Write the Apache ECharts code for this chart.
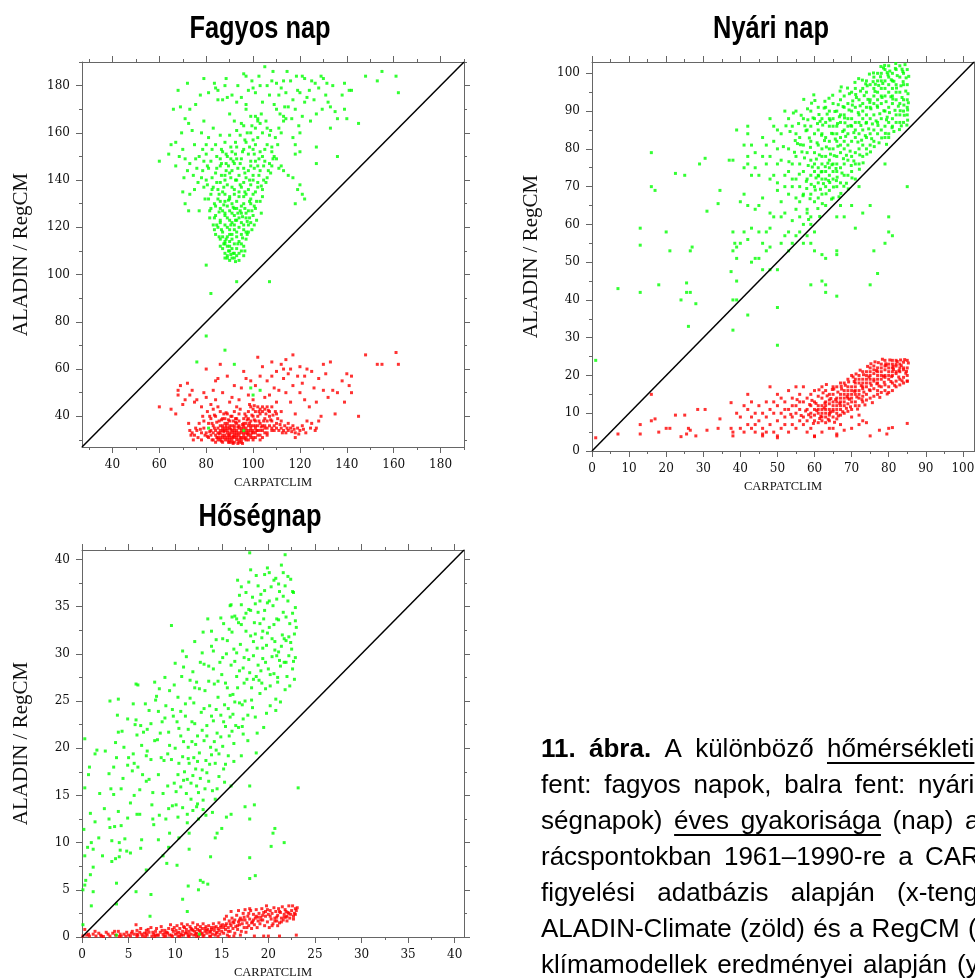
<!DOCTYPE html>
<html>
<head>
<meta charset="utf-8">
<script src="https://cdn.jsdelivr.net/npm/echarts@6/dist/echarts.min.js"></script>
<style>
html, body { margin: 0; padding: 0; background: #fff; }
#main { width: 975px; height: 979px; }
</style>
</head>
<body>
<div id="main"></div>
<script>
// axis ranges and ticks
var fagyosRange = [27, 190];
var fagyosTicks = [40, 60, 80, 100, 120, 140, 160, 180];
var fagyosMinor = [30, 50, 70, 90, 110, 130, 150, 170, 190];
var nyariRange = [0, 103];
var nyariTicks = [0, 10, 20, 30, 40, 50, 60, 70, 80, 90, 100];
var nyariMinor = [5, 15, 25, 35, 45, 55, 65, 75, 85, 95];
var hosegRange = [0, 41];
var hosegTicks = [0, 5, 10, 15, 20, 25, 30, 35, 40];
var hosegMinor = [2.5, 7.5, 12.5, 17.5, 22.5, 27.5, 32.5, 37.5];

// [CARPATCLIM, model] pairs
var fagyosAladin = [
  [90,106],[91,107],[89,108],[92,107],[88,109],[93,108],[90,110],[94,109],[87,111],[91,111],[95,110],[89,112],[92,113],[96,112],[88,114],[90,114],[94,114],[86,115],[93,116],[97,115],
  [89,116],[91,117],[95,117],[87,118],[92,119],[98,118],[90,119],[85,120],[94,120],[88,121],[96,121],[91,122],[99,122],[86,123],[93,123],[89,124],[97,124],[84,125],[92,125],[100,125],
  [95,126],[88,126],[90,127],[86,128],[98,127],[93,128],[101,128],[84,129],[91,130],[96,130],[88,131],[103,131],[99,132],[85,132],[94,133],[90,133],[82,134],[97,134],[101,135],[87,135],
  [92,136],[104,136],[83,137],[95,137],[89,138],[99,138],[86,139],[102,139],[93,140],[80,140],[97,141],[106,141],[88,142],[100,142],[84,143],[91,144],[103,144],[96,145],[86,146],[99,146],
  [108,146],[92,147],[82,148],[101,148],[95,149],[89,150],[98,151],[104,150],[87,152],[100,153],[93,154],[101,155],[97,156],[84,155],[100,157],[102,158],[99,160],[101,162],[96,163],[102,165],
  [89,107],[92,109],[90,112],[93,111],[88,113],[91,115],[95,113],[87,116],[90,117],[93,118],[96,119],[89,120],[92,121],[86,122],[95,122],[90,123],[88,125],[94,124],[91,126],[97,126],
  [87,127],[92,128],[95,129],[89,129],[99,130],[86,131],[93,131],[90,132],[96,133],[88,134],[92,134],[100,134],[94,135],[85,136],[98,136],[91,137],[96,139],[88,140],[94,142],[90,143],
  [98,144],[102,146],[93,149],[86,149],[91,152],[96,153],[99,148],[103,152],[105,148],[100,140],[102,137],[104,133],[97,118],[98,121],[94,106],[96,108],[88,107],[86,112],[84,117],[83,121],
  [82,128],[81,132],[79,137],[78,141],[81,145],[80,151],
  [83.5,124],[85.5,126.5],[87.5,129.5],[89.5,131.5],[91.5,128.5],[93.5,126],[95.5,124.5],[97.5,122.5],[99.5,127],[101.5,131],[103.5,137.5],[105.5,139],[107.5,143],[104.5,146],[102.5,149],[100.5,151],[98.5,154],[96.5,157],[94.5,159],[92.5,156],
  [90.5,154],[88.5,151],[86.5,147],[84.5,145],[82.5,141],[80.5,138],[79.5,132],[81.5,127],[83.5,119],[85.5,116],[87.5,113],[89.5,110],[91.5,109],[93.5,113],[95.5,115.5],[97.5,117],[99.5,119],[101.5,123],[103.5,126],[100.5,129],
  [98.5,131],[96.5,135],[94.5,138],[92.5,140],[90.5,141],[88.5,144],[86.5,142],[84.5,139],[82.5,136],[100.5,145],[102.5,142],[104.5,140],[106.5,144],[108.5,149],[110.5,155],[109.5,158],[107.5,161],[105.5,165],[103.5,168],[99.5,163],
  [97.5,160],[95.5,152],[93.5,145],[91.5,148],[89.5,146],[87.5,137],[85.5,134],[83.5,130],[81.5,124],[96.5,110],[92.5,105.5],[90.5,108.5],[88.5,115],[86.5,119],[84.5,121],[90.5,121],[92.5,123],[94.5,127],[96.5,128],[98.5,124],
  [100.5,121],[98.5,140],[96.5,143],[94.5,147],[92.5,151],[90.5,149],[88.5,147],[86.5,153],[84.5,150],[82.5,153],[80.5,146],[78.5,144],[76.5,139],[78.5,153],[75.5,149],[74.5,142],[111.5,168],[113.5,171],[116.5,166],[119.5,163],
  [124.5,165],[129.5,170],[131.5,181],[126.5,181],[118.5,184],[114.5,186],[108.5,186],[102.5,184],[99.5,182],[93.5,180],[88.5,183],[83.5,181],[77.5,176],[75.5,172],[72.5,164],[69.5,160],[68.5,150],[70.5,141],[72.5,127],
  [66,170],[68,178],[69,171],[72,181],[73,170],[71,166],[67,156],[70,153],[74,161],[75,155],[78,160],[79,165],[79,183],[81,177],[84,179],[85,178],[85,174],[87,174],[88,180],[89,175],
  [90,168],[91,176],[92,165],[93,173],[95,175],[96,185],[97,184],[97,172],[98,178],[99,167],[100,179],[101,177],[102,166],[103,180],[104,173],[105,188],[106,180],[107,176],[108,182],[109,172],
  [110,181],[111,176],[112,179],[113,167],[113,182],[114,177],[115,171],[116,182],[117,174],[118,170],[119,178],[120,177],[121,184],[122,183],[122,173],[123,175],[124,178],[125,182],[126,174],[127,168],
  [128,179],[129,184],[130,183],[131,176],[132,173],[133,171],[133,162],[134,180],[135,169],[136,166],[138,176],[139,181],[139,170],[140,166],[141,178],[142,178],[145,164],[148,184],[153,182],[155,186],
  [161,184],[162,177],[110,170],[111,162],[113,165],[114,166],[112,160],[117,158],[118,151],[118,155],[120,152],[120,160],[121,167],[115,142],[117,141],[118,130],[119,136],[120,138],[121,134],[122,132],
  [127,154],[127,147],[136,150],[106,162],[104,160],[107,159],[108,154],[109,150],[110,149],[111,145],[112,146],[113,144],[105,153],[106,155],[107,147],[108,152],[103,164],[101,167],[97,170],[95,164],
  [93,161],[90,159],[88,156],[86,159],[83,162],[81,158],[80,155],[77,150],[76,145],[79,148],[73,147],[71,149],[72,144],[75,136],[77,127],[73,134],[71,130],[70,135],[64,151],[60,148],
  [65,155],[67,146],[80,104],[82,92],[93,97],[107,97],[88,68],[80,74],[76,63],[92,62],[99,52],[100,49],[103,51],[96,34],[81,35]
];
var fagyosRegcm = [
  [80,33],[81,31],[82,34],[83,30],[84,32],[85,35],[85,31],[86,33],[87,29],[87,36],[88,31],[88,34],[89,30],[89,37],[90,32],[90,35],[91,29],[91,33],[92,31],[92,36],
  [93,34],[93,30],[94,32],[94,38],[95,35],[95,31],[96,33],[96,37],[97,30],[97,35],[98,32],[98,39],[99,34],[99,31],[100,36],[100,33],[101,38],[101,35],[102,32],[102,40],
  [103,37],[103,34],[104,42],[104,36],[105,39],[105,33],[83,36],[84,29],[86,30],[87,32],[88,37],[89,33],[90,30],[91,36],[92,34],[93,32],[94,35],[95,29],[96,31],[97,33],
  [98,36],[99,38],[100,31],[101,33],[102,36],[103,41],[85,33],[86,36],[87,34],[89,35],[90,31],[91,31],[92,33],[93,37],[94,30],[95,33],[96,35],[97,37],[98,34],[99,36],
  [100,40],[101,42],[102,44],[103,43],[98,42],[99,44],[100,43],[97,40],[96,39],[104,44],[105,43],[106,44],[107,42],[108,44],[106,38],[107,40],[108,38],[109,36],[110,35],[111,34],
  [112,35],[113,34],[114,33],[115,34],[116,35],[117,36],[118,33],[119,35],[120,34],[108,34],[106,35],[110,37],[112,38],[105,36],[104,31],[106,32],[103,30],[78,33],[79,35],[78,30],
  [76,34],[75,32],[74,33],[73,34],[81,37],[82,39],[79,38],[77,37],[84,40],[86,42],[88,39],[85,44],[83,43],[90,38],[91,40],[92,42],[93,39],[94,41],[89,41],[87,39],
  [82,32],[83,33],[84,34],[85,30],[86,31],[86,34],[87,31],[87,35],[88,30],[88,32],[88,35],[89,31],[89,34],[90,29],[90,33],[90,36],[91,30],[91,34],[92,29],[92,32],
  [92,35],[93,31],[93,33],[94,29],[94,33],[94,36],[95,30],[95,34],[96,32],[96,36],[97,31],[97,34],[98,30],[98,33],[99,32],[99,35],[100,30],[100,34],[101,31],[101,36],
  [102,34],[103,32],[104,34],[105,35],[106,33],[107,36],[108,35],[109,34],
  [80.5,31.5],[81.5,33.5],[82.5,30],[83.5,35],[84.5,31],[85.5,32.5],[86.5,29.5],[87.5,33.5],[88.5,36],[89.5,32],[90.5,34.5],[91.5,31.5],[92.5,37.5],[93.5,35.5],[94.5,31],[95.5,36.5],[96.5,30.5],[97.5,32.5],[98.5,37],[99.5,33],
  [100.5,38.5],[101.5,34],[102.5,38],[103.5,35.5],[104.5,38],[105.5,41],[106.5,42.5],[107.5,38.5],[108.5,40.5],[109.5,42],[110.5,39],[111.5,36.5],[112.5,33],[113.5,36],[114.5,35],[116.5,33.5],[117.5,34.5],[119.5,32.5],[121.5,34.5],[122.5,33],
  [124.5,35],[126.5,34],[79.5,32],[77.5,34.5],[76.5,31],[75.5,35],[74.5,30],[73.5,32],[72.5,37],[78.5,40],[80.5,42],[82.5,37],[84.5,37.5],[86.5,38.5],[88.5,41.5],[90.5,40],[92.5,39],[94.5,43],[96.5,41],[98.5,45],
  [100.5,44.5],[102.5,42],[99.5,40.5],[97.5,38.5],[91.5,38],[89.5,38.5],[87.5,41],[85.5,38],[83.5,40.5],[81.5,40],[93.5,28.5],[91.5,28.5],[89.5,29],[95.5,28.5],
  [60,44],[65,43],[67,41],[68,51],[68,49],[69,53],[70,45],[71,47],[72,54],[73,49],[74,51],[75,46],[76,47],[78,44],[79,50],[80,48],[80,60],[82,45],[83,51],[84,47],
  [84,55],[85,56],[86,62],[87,50],[89,57],[90,46],[91,48],[92,53],[93,44],[94,47],[95,52],[96,59],[97,56],[98,49],[99,55],[100,47],[101,53],[103,57],[104,61],[105,48],
  [106,55],[107,49],[108,57],[109,52],[110,46],[110,59],[111,51],[112,62],[113,56],[113,60],[114,50],[115,58],[116,46],[117,53],[117,66],[118,41],[119,57],[120,50],[120,61],[121,54],
  [122,47],[122,57],[123,60],[124,44],[125,59],[126,52],[127,46],[128,38],[128,56],[129,40],[130,62],[130,51],[131,58],[132,48],[133,63],[134,51],[135,41],[136,50],[138,55],[139,46],
  [140,58],[141,53],[142,57],[142,50],[145,40],[148,66],[153,62],[155,62],[161,67],[162,62],[114,64],[116,60],[108,63],[102,65],[127,35],[125,37],[118,31],[121,36],[123,38],[115,37],
  [112,42],[110,41]
];
var nyariAladin = [
  [56,70],[56,76],[57,81],[57,88],[58,72],[58,79],[58,85],[56,83],[57,74],[55,78],[55,72],[55,84],[54,76],[54,70],[53,80],
  [59,73],[59,77],[59,82],[59,86],[59,90],[60,70],[60,74],[60,79],[60,84],[60,88],[61,71],[61,75],[61,81],[61,85],[61,91],[60,66],[59,68],[61,67],
  [62,72],[62,76],[62,80],[62,84],[62,88],[63,70],[63,74],[63,78],[63,83],[63,87],[63,91],[64,73],[64,77],[64,82],[64,86],[64,90],[62,68],[64,69],[63,65],
  [65,72],[65,76],[65,80],[65,84],[65,88],[65,92],[66,74],[66,78],[66,82],[66,86],[66,90],[67,75],[67,79],[67,83],[67,87],[67,93],[66,70],[67,71],
  [68,76],[68,80],[68,85],[68,89],[68,94],[69,77],[69,81],[69,84],[69,88],[69,92],[70,78],[70,82],[70,86],[70,90],[70,95],[68,73],[70,74],[69,73],
  [71,79],[71,83],[71,87],[71,91],[71,96],[72,80],[72,84],[72,89],[72,93],[73,81],[73,85],[73,88],[73,92],[73,96],[71,76],[73,78],[72,76],
  [74,83],[74,87],[74,91],[74,95],[74,98],[75,84],[75,88],[75,93],[75,97],[76,85],[76,89],[76,92],[76,96],[76,99],[75,81],[74,80],[76,82],
  [77,87],[77,91],[77,95],[77,98],[78,88],[78,92],[78,96],[78,100],[79,86],[79,90],[79,94],[79,98],[79,101],[77,84],[78,85],[79,83],
  [80,87],[80,91],[80,95],[80,99],[80,102],[81,88],[81,92],[81,96],[81,100],[82,89],[82,93],[82,97],[82,101],[80,84],[81,86],[82,87],
  [83,89],[83,92],[83,95],[83,99],[83,102],[84,90],[84,93],[84,97],[84,100],[85,91],[85,93],[85,97],[85,101],[84,87],[85,89],[83,87],
  [76,94],[77,93],[78,94],[79,96],[80,97],[81,98],[82,95],[78,98],[77,100],[81,94],[62,74],[61,73],[63,72],[64,75],[62,78],[60,76],[65,74],[66,76],[64,80],[67,81],
  [68,82],[69,86],[70,88],[71,85],[72,87],[73,90],[74,89],[75,91],[66,84],[65,86],[64,88],[67,89],[68,91],
  [57.3,77.6],[58.6,82.9],[59.4,75.2],[60.7,81.6],[61.5,87.3],[62.4,70.8],[63.2,80.5],[64.6,84.1],[65.3,78.2],[66.7,88.5],[67.4,73.6],[68.2,86.9],[69.6,79.4],[70.3,92.7],[71.7,81.8],[72.5,86.2],[73.4,94.1],[74.6,85.3],[75.2,90.6],[76.6,87.4],
  [77.3,96.8],[78.7,90.1],[79.3,92.5],[80.6,93.8],[81.4,97.9],[82.6,91.3],[83.3,96.7],[84.7,98.8],[85.2,94.6],[84.4,102.3],[82.3,99.4],[80.3,100.6],[78.4,97.3],[76.3,95.2],[74.4,93.1],[72.3,91.4],[70.6,84.3],[68.6,78.3],[66.3,80.7],[64.3,78.6],
  [62.7,82.2],[60.4,72.3],[58.3,75.6],[56.6,79.2],[55.4,81.4],[57.7,84.8],[59.6,88.2],[61.3,78.4],[63.6,76.2],[65.6,82.6],[67.6,84.6],[69.3,90.3],[71.3,93.6],[73.7,83.5],[75.6,86.6],[77.6,89.3],[79.6,88.4],[81.7,90.2],[83.6,93.6],[84.6,95.3],
  [85.4,99.2],[83.8,100.5],[81.8,101.3],[79.8,99.6],[77.8,99.1],[75.8,97.8],[73.8,97.2],[71.8,89.6],[69.8,86.2],[67.8,77.4],[65.8,74.8],[63.8,71.6],[61.8,73.9],[60.2,69.1],[61.1,72.8],[62.9,75.3],[64.1,71.1],[66.1,72.5],[62.1,65.5],[60.9,64.2],
  [59.1,70.6],[58.8,66.8],[64.9,94.2],[62.8,92.6],[60.1,92.8],[58.1,90.6],[56.4,88.9],[54.3,89.5],[57.1,93.1],[59.8,94.3],[55.9,73.3],[57.9,69.5],[68.9,96.1],[66.9,95.3],[70.9,97.6],[72.9,98.2],[75.9,100.1],[78.9,102.1],[80.9,85.6],[82.9,85.1],
  [84.9,86.3],[78.1,82.9],[76.1,80.6],[74.1,78.6],[72.1,74.6],[70.1,72.3],[69.1,69.4],[67.1,68.2],[65.1,69.9],[79.1,84.1],[83.1,90.1],[85.1,87.6],[84.1,91.6],
  [60.5,77.3],[61.9,83.6],[63.4,89.2],[64.7,75.8],[66.2,86.7],[67.7,91.2],[68.4,83.3],[69.9,75.6],[71.1,94.4],[72.7,82.3],[73.9,86.8],[74.2,96.7],[75.4,82.7],[76.9,91.4],[77.1,86.2],[78.2,93.6],[79.4,87.7],[80.2,89.6],[81.1,93.2],[82.1,96.1],
  [83.9,97.8],[84.2,88.9],[85.3,92.2],[80.7,98.3],[78.6,101.4],[76.4,97.1],[74.9,92.3],[72.4,95.3],[70.2,91.6],[68.1,88.2],[66.4,91.7],[64.2,87.6],[62.2,86.3],[60.8,86.7],[58.9,80.4],[57.4,86.1],[55.7,86.7],[56.2,81.1],[57.8,71.4],[61.6,69.3],
  [63.1,68.1],[65.9,71.6],[67.9,70.1],[70.6,76.8],[72.2,78.4],[73.1,76.3],[75.1,79.2],[77.4,81.6],[79.4,81.2],[81.4,84.6],[83.4,86.1],[85.1,90.3],[69.4,94.6],[67.2,96.4],[71.9,98.6],[74.8,99.8],[77.9,101.8],[81.9,102.6],[83.6,101.1],[79.6,100.2],
  [65.5,89.9],[63.9,93.4],[62.6,90.8],[61.2,89.1],[59.2,92.1],[58.2,87.7],[54.8,82.2],[53.4,84.6],[52.3,86.1],[51.6,80.6],[53.1,76.6],[54.6,79.1],[56.9,67.6],[58.4,61.3],[61.4,62.1],[64.6,66.7],[66.6,67.3],[68.6,70.9],
  [38,77],[37,77],[39,85],[42,86],[42,84],[41,81],[43,81],[44,79],[42,78],[42,76],[46,83],[47,81],[48,88],[49,86],[50,85],[51,84],[52,90],[53,88],[54,86],[55,90],
  [49,82],[50,80],[48,78],[47,76],[46,78],[45,73],[44,75],[43,73],[41,75],[40,66],[41,68],[42,65],[44,64],[45,65],[46,67],[48,63],[49,62],[50,69],[50,71],[51,66],
  [52,63],[53,58],[54,61],[55,64],[56,62],[57,60],[55,57],[54,55],[53,53],[52,57],[51,55],[48,59],[47,58],[45,58],[43,59],[42,56],[41,58],[40,55],[39,54],[38,53],
  [38,58],[39,51],[43,50],[44,51],[45,51],[46,48],[48,48],[50,48],[57,55],[56,58],[58,57],[58,63],[59,55],[60,53],[48,54],[47,53],[46,55],[51,62],[52,70],[53,68],
  [54,72],[55,67],[56,66],[57,68],[58,64],[59,62],[50,76],[51,77],[52,73],[53,74],[49,73],[48,72],
  [66,62],[68,62],[70,65],[73,63],[75,65],[71,59],[80,62],[80,58],[79,55],[81,57],[76,53],[62,52],[63,51],[66,52],[66,53],[62,45],[63,44],[63,42],[66,41],[75,44],
  [77,47],[59,44],[50,38],[50,28],[42,36],[38,32],[38,40],[39,45],[1,24],[85,70],[79,76],[80,83],[71,72],[72,70],[65,67],[67,65],[60,58],[59,60],[16,79],[16,70],
  [17,69],[13,59],[13,54.5],[13,42],[7,43],[18,44],[20,58],[21,53],[22.5,73.5],[25,73],[24,40],[25.5,44.5],[25.5,42],[26.5,42],[26,33],[28,39],[26.5,53],[27,54],[29,76],[30.5,77.5],
  [31,63.5],[34,65.5],[34.5,69],[37.5,47.5],[38.5,55],[39,40]
];
var nyariRegcm = [
  [58,8],[58,11],[58,14],[59,9],[59,12],[59,10],[60,8],[60,11],[60,13],[60,9.5],[61,7.5],[61,10],[61,12],[61,14.5],[59,15],[60,16],
  [62,8],[62,10],[62,12],[62,14],[63,9],[63,11],[63,13],[63,16],[64,9.5],[64,11],[64,12.5],[64,15],[62,17],[63,7.5],[64,8],
  [65,9],[65,11],[65,13],[65,15],[66,10],[66,12],[66,14],[66,17],[67,11],[67,13],[67,15],[67,18],[65,17],[66,8.5],[67,9.5],
  [68,12],[68,14],[68,16],[68,18],[69,12.5],[69,15],[69,17],[69,19],[70,13],[70,15],[70,17],[70,20],[68,10],[69,10.5],[70,11],
  [71,13],[71,15],[71,17],[71,19],[72,14],[72,16],[72,18],[72,20],[73,14.5],[73,16.5],[73,19],[73,21],[71,12],[72,12],[73,13],
  [74,15],[74,17],[74,19],[74,21],[75,16],[75,18],[75,20],[75,22],[76,16.5],[76,18.5],[76,20.5],[76,22.5],[74,13.5],[75,14],[76,14.5],
  [77,16],[77,18],[77,20],[77,22],[78,17],[78,19],[78,21],[78,23],[79,17.5],[79,19.5],[79,21.5],[79,24],[77,15],[78,15.5],[79,16],
  [80,17],[80,19],[80,21],[80,23],[81,18],[81,20],[81,22],[81,24],[82,18.5],[82,20.5],[82,22.5],[82,24],[80,15.5],[81,16],[82,17],
  [83,19],[83,21],[83,23],[84,19.5],[84,21.5],[84,23.5],[85,20],[85,22],[85,24],[85,18.5],[84,18],[83,17.5],
  [61,11],[62,11],[63,10],[64,10],[65,10.5],[66,11],[67,12],[68,13],[69,14],[70,14],[71,16],[72,15],[73,17],[74,18],[75,19],[76,19],[77,19],[78,20],[79,20],[80,20],
  [81,21],[82,21],[83,22],[84,22],[62,9],[63,12],[64,13.5],[65,12],[66,13],[67,14],[68,15],[69,16],[70,16],[71,18],[72,19],[73,18],[74,20],[75,21],[76,21.5],[77,21],
  [78,22],[79,22.5],[80,22],[81,23],[82,23],
  [58.4,9.6],[59.3,13.4],[60.6,10.7],[61.4,8.6],[62.6,11.4],[63.4,14.6],[64.3,10.3],[65.7,13.6],[66.4,9.3],[67.3,16.4],[68.6,11.3],[69.4,13.7],[70.7,18.4],[71.4,14.3],[72.6,17.3],[73.3,15.6],[74.7,19.6],[75.3,17.4],[76.7,21.3],[77.4,17.2],
  [78.6,19.8],[79.3,22.7],[80.6,18.4],[81.3,21.6],[82.7,19.6],[83.4,22.6],[84.6,20.6],[85.3,23.3],[84.3,24.2],[82.3,23.7],[80.3,24.1],[78.3,24.3],[76.3,23.6],[74.3,22.4],[72.3,21.4],[70.4,19.6],[68.3,17.4],[66.3,15.6],[64.4,13.9],[62.3,15.4],
  [60.4,12.6],[58.7,12.3],[57.6,10.6],[56.4,9.4],[55.3,13.6],[53.6,9.7],[59.7,7.3],[61.7,9.2],[63.7,8.4],[65.4,7.6],[67.6,10.4],[69.7,11.7],[71.6,11.1],[73.6,12.2],[75.6,12.8],[77.6,14.2],[79.6,15.1],[81.6,17.4],[83.6,18.6],[62.8,12.7],
  [64.8,16.3],[66.8,12.6],[68.8,14.4],[70.8,15.8],[72.8,13.6],[74.8,16.2],[76.8,17.8],[78.8,18.2],[80.8,19.7],[82.8,21.3],[84.8,21.1],[61.2,16.2],[63.2,17.6],[65.2,16.4],[67.2,17.1],[69.2,18.3],[71.2,20.4],[73.2,20.2],[75.2,23.1],[77.2,23.4],
  [79.2,23.1],[81.2,22.4],[83.2,24.1],
  [40,6],[40,9],[41,5],[41,12],[42,7],[42,11],[43,6],[43,9],[44,5],[44,10],[45,8],[45,12],[46,6],[46,4],[47,9],[47,13],[48,7],[48,11],[48,17],[49,5],
  [49,10],[50,8],[50,12],[50,4],[51,6],[51,10],[51,14],[52,7],[52,9],[52,13],[53,5],[53,11],[53,16],[54,7],[54,9],[54,14],[55,6],[55,10],[55,12],[55,17],
  [56,8],[56,11],[56,15],[57,7],[57,9],[57,13],[57,17],[42,15],[43,13],[44,7],[46,10],[47,5],[49,13],[50,15],[52,11],[54,12],[56,13],[58,5],[59,6],[60,4],
  [62,5],[64,6],[66,4.5],[68,5.5],[70,6],[72,7],[74,7.5],[70,9],[72,9.5],[73,8],[67,7],[65,6],
  [1,3.5],[7,4.5],[13,7],[13,4.5],[16,8],[17,8.5],[18,5],[21,6],[20,6],[22.5,9.5],[24,3.8],[25,9.5],[26,6],[25.5,4.5],[26.5,5.5],[28,4],[28.5,11],[30.5,11],[31,5.5],[34,6],
  [34.5,8.5],[37.5,6],[37.5,12.8],[38,5],[38,4],[39,10],[75,4],[77.5,5.5],[79.5,4.5],[80,6],[81,6.2],[85,7.3],[16,15],[85,18.5],[60,3.8],[66,4],[50,3.5],[46,4.5]
];
var hosegAladin = [
  [0.3,21],[0.3,15.8],[0.2,11.4],[0.3,8.6],[0.3,5.5],[0.1,5],[0.4,6],[0.8,18],[0.7,17.2],[1,10],[1.2,9.3],[0.9,6.6],[1.2,4.8],[1.4,19.4],[1.6,19.8],[1.8,10.5],[1,3.3],[0.1,1.3],[0.6,9.5],
  [2.5,19.7],[3,25],[3,11.6],[3.2,8],[3.4,18],[3.5,11.7],[3.6,20.6],[3.7,19],[3.8,23.5],[3.9,25.2],[3.9,21.7],[4,10],[4,8.5],[4.2,15.7],[4.3,21.8],[4.5,20.1],[4.6,10.4],[4.8,9.1],[4.9,12.6],[4.9,23.1],
  [5,19],[5.2,8.9],[5.5,24.7],[5.5,19.4],[5.6,18.4],[5.6,15],[5.7,22.5],[3.7,5.7],[3.7,3.5],[3.1,15.7],[4.1,9.2],[3.6,8.3],[2.9,12.5],
  [5.8,23],[5.8,26.8],[6,26.7],[6.3,22.4],[6,18],[6.2,13],[6.4,10.3],[6.5,17.2],[6.6,21.7],[6.8,24.7],[6.9,16.5],[7,22],[7,19.7],[7.2,24],[7.4,18.8],[7.5,14],[7.6,15.3],[7.7,11.9],[7.8,20.8],[7.8,27],
  [8,25.5],[8.1,20.9],[8.2,23.9],[8.2,10.3],[7.4,4.5],[7.3,2.2],[5.8,4.8],[6.9,7.1],[6.3,9.4],[7.6,12.5],[5.9,13],
  [8.3,26.3],[8.5,19],[8.6,22.8],[8.7,15.2],[8.8,18.7],[8.9,27.5],[9,12.5],[9,24.5],[9.2,16],[9.3,21.7],[9.4,11],[9.4,26.1],[9.6,33],[9.6,18.8],[9.7,13.9],[9.8,23.4],[9.9,16.3],[10,20],[10,29],[10.1,14],
  [10.2,22.8],[10.3,25.4],[10.4,18.4],[10.4,10.5],[10.6,23.9],[10.6,15.9],[10.7,27.6],[10.8,13.7],[10.8,30.3],[10.9,20.7],[9.1,7.8],[10.2,7.6],[9.3,9.5],[8.7,8.6],
  [11,17.5],[11.1,24.7],[11.2,15.2],[11.2,29.7],[11.3,13],[11.4,22],[11.5,18.4],[11.6,27.2],[11.7,16.3],[11.8,20.7],[11.9,13.4],[12,24.8],[12.1,31.3],[12.2,17.8],[12.3,27],[12.4,21.3],[12.5,15.3],[12.6,19.5],[12.7,29.1],[12.8,23.8],
  [12.9,17.7],[13,14.5],[13,32.3],[13.1,20.8],[13.2,26.1],[13.3,18.7],[13.4,22.4],[13.5,33.7],[13.6,16.5],[13.6,28.7],[13.7,24.5],[13.8,20.1],[13.9,30.8],[13.9,19.3],[11.5,9.3],[11.5,11],[12.5,12.5],[13,13.5],[14,13.2],[12.7,6],
  [13,5.8],[12.5,5],[11.4,5.4],[10.8,4],[11.3,2.7],[13.5,5.6],[13.8,8.5],[12,19],[12.3,16],[11.8,22.8],
  [14.1,22.9],[14.2,26.8],[14.3,18.4],[14.4,31.5],[14.5,21.6],[14.6,25.4],[14.7,17],[14.8,29.1],[14.9,23.5],[15,27.8],[15.1,20.2],[15.2,33.2],[15.3,24.6],[15.4,22.3],[15.5,30],[15.6,26.4],[15.7,19.2],[15.8,32.6],[15.9,23.3],[16,28.8],
  [16,35.2],[16.1,21.8],[16.2,25.7],[16.3,30.5],[16.4,34],[16.5,22.4],[16.6,27.6],[16.7,37.8],[16.8,33.3],[16.9,24.8],[15.5,12.7],[15,11.5],[14.5,11],[14.3,10.5],[14.5,15.7],[16,16],[16,13],[14,15.5],[15.2,17.8],[16.3,20.5],
  [17,31],[17.1,35.2],[17.2,22.3],[17.3,28.5],[17.4,33.8],[17.5,25],[17.6,36.5],[17.7,30.4],[17.8,23.5],[17.9,34.7],[18,28],[18,40.7],[18.1,31.9],[18.2,26.4],[18.3,36],[18.4,29.8],[18.5,33.3],[18.6,23.3],[18.7,38.3],[18.8,30.6],
  [18.9,34.4],[19,27.2],[19.1,25.8],[19.2,36.3],[19.3,31.7],[19.4,29.5],[19.5,33.7],[19.6,38.4],[19.7,26.3],[19.8,30.9],[19.9,35.4],[20,28.4],[17.5,13.8],[18,16],[18,12.5],[18.5,14],[18,8.4],[18,6.2],[18.6,6.5],[17.3,21.5],
  [17.1,19.2],[18.7,19.5],[19.5,22.2],
  [20.1,32.8],[20.2,26.6],[20.3,37.1],[20.4,29.7],[20.5,35.1],[20.6,27.9],[20.7,31.3],[20.8,38],[20.9,33.7],[21,27.5],[21.1,30.2],[21.2,36.6],[21.3,28.7],[21.4,39.4],[21.5,32],[21.6,34.4],[21.7,29.1],[21.8,37.2],[21.8,40.5],[21.9,31.4],
  [22,27.6],[22.1,35.6],[22.2,29.8],[22.3,33.2],[22.4,37.9],[22.5,30.5],[22.6,28.4],[22.7,36.5],[22.8,32.1],[23,32.8],[22.9,29.6],[20.5,11],[20.7,11.5],[21.7,10],[20.3,9.6],[23.2,15.8],[21,27],[20.2,24.5],[20.8,24],
  [10.3,17.2],[10.8,19.1],[11.3,16.7],[11.7,14.6],[12.2,20.4],[12.7,16.8],[13.2,15.7],[13.7,18.3],[14.2,20.7],[14.7,19.4],[15.2,22.8],[15.7,24.2],[16.2,23.6],[16.7,26.4],[17.2,24.6],[17.7,27.3],[18.2,25.1],[18.7,27.6],[19.2,28.2],[19.7,29.1],
  [20.2,27.8],[20.7,30.4],[21.2,29.3],[21.7,31.6],[22.2,31.8],[22.7,29.2],[10.6,21.3],[11.1,23.4],[11.6,25.3],[12.1,22.6],[12.6,26.3],[13.1,24.2],[13.6,27.1],[14.1,28.4],[14.6,27.1],[15.1,29.6],[15.6,31.4],[16.1,32.3],[16.6,30.1],[17.1,33.1],
  [17.6,32.4],[18.1,34.6],[18.6,35.3],[19.1,33.2],[19.6,36.7],[20.1,35.6],[20.6,37.8],[21.1,33.6],[21.6,36.1],[22.1,38.2],[22.6,34.3],[16.4,29.2],[17.4,29.6],[18.4,31.3],[19.4,32.4],[15.4,26.9],[14.4,24.1],[13.4,21.3],[12.4,18.6],[11.4,20.1],
  [10.4,22.1],[9.4,20.3],[8.4,21.6],[7.4,22.6],[6.4,20.3],[5.4,17.6],[4.4,16.8],[3.4,15.1],[2.4,13.6],[1.4,12.2],[9.7,24.1],[8.9,23.2],[7.9,25.1],[6.9,19.2],[5.9,21.4],[4.9,18.2],[3.9,13.3],[2.9,17.3],[1.9,15.2],[0.9,13.1],
  [9.2,19.4],[8.2,17.2],[7.2,16.7],[6.2,15.6],[5.2,14.2],[4.2,11.8],[3.2,10.2],[2.2,8.6],[1.2,7.4],[9.9,26.7],[10.9,28.6],[11.9,28.1],[12.9,30.1],[13.9,32.4],[14.9,33.8],[15.9,35.1],[16.9,36.2],[17.9,37.6],[18.9,37.2],[19.9,39.1],
  [16.6,33.7],[17.6,34.3],[18.6,32.1],[19.6,34.6],[20.6,33.1],[21.6,38.6],[22.6,36.6],[22.9,34.9],[20.9,29.8],[21.9,33.9],[19.3,26.9],[18.3,24.3],[17.3,23.1],[16.3,18.6],[15.3,16.4],[14.3,14.6],[13.3,12.9],[12.3,13.8],[11.3,12.1],[10.3,12.7],
  [9.3,13.6],[8.3,12.9],[15.8,21.3],[16.8,22.2],[17.8,20.8],[18.8,21.6],[19.8,23.7],[20.8,25.2],[21.8,26.2],[22.8,27.3],[21.3,24.9],[22.3,26.6],
  [10.1,15.4],[10.9,16.6],[11.4,18.9],[11.9,17.1],[12.4,14.1],[12.9,21.9],[13.4,17.4],[13.9,23.4],[14.4,19.8],[14.9,21.2],[15.4,18.3],[15.9,25.6],[16.4,24.9],[16.9,28.2],[17.4,26.9],[17.9,29.4],[18.4,27.3],[18.9,28.8],[19.4,30.6],[19.9,32.2],
  [20.4,31.6],[20.9,35.8],[21.4,30.8],[21.9,29.1],[22.4,31.2],[22.9,33.5],[12.1,26.4],[13.1,28.9],[14.1,30.3],[15.1,31.6],[16.1,33.9],[17.1,37.1],[18.1,38.9],[19.1,35.6],[20.1,38.6],[21.1,37.4],
  [3.7,0.2],[12.6,0.3]
];
var hosegRegcm = [
  [0.3,0.8],[0.5,0.2],[0.8,0.1],[1.2,0.3],[1.5,0.1],[2,0.2],[2.6,0.5],[3,0.1],[3.3,0.4],[3.6,0.2],[3.9,0.6],[4.2,0.1],[4.5,0.3],[4.8,0.5],[5,0.2],[0.1,0.1],[2.3,0.05],[4,0.05],[1.8,0.4],
  [5.2,0.1],[5.4,0.6],[5.6,0.3],[5.8,1.3],[6,0.2],[6.2,0.5],[6.3,0.9],[6.5,0.1],[6.7,0.4],[6.9,0.7],[7,0.2],[7.2,0.5],[7.4,1],[7.5,0.1],[7.7,0.3],[7.9,0.6],[8,0.9],[8.2,0.2],[8.4,0.5],[8.5,1.1],
  [8.7,0.3],[8.9,0.7],[9,0.1],[9.2,0.4],[9.3,0.9],[9.5,1.3],[9.6,0.2],[9.8,0.6],[9.9,1],[10,0.3],[5.9,0.05],[6.8,0.05],[7.8,0.05],[8.8,0.05],[9.7,0.05],
  [10.1,0.7],[10.2,1.2],[10.3,0.1],[10.4,0.5],[10.5,0.9],[10.6,0.3],[10.7,1.4],[10.8,0.6],[10.9,0.2],[11,1],[11.1,0.4],[11.2,0.8],[11.3,1.3],[11.4,0.1],[11.5,0.6],[11.6,1.1],[11.7,0.3],[11.8,0.8],[11.9,1.5],[12,0.2],
  [12.1,0.6],[12.2,1],[12.3,0.4],[12.4,1.3],[12.5,0.1],[12.6,0.7],[12.7,1.1],[12.8,0.3],[12.9,0.9],[13,1.4],[13.1,0.2],[13.2,0.6],[13.3,1.1],[13.4,0.4],[13.5,0.8],[13.6,1.2],[13.7,0.1],[13.8,0.6],[13.9,1],[14,0.3],
  [14.1,1.4],[14.2,0.7],[14.3,0.2],[14.4,1.1],[14.5,0.5],[14.6,0.9],[14.7,1.5],[14.8,0.3],[14.9,1],[15,0.6],[10.5,0.05],[11.5,0.05],[12.3,0.05],[13,0.05],[13.8,0.05],[14.6,0.05],
  [15.1,1.3],[15.2,0.4],[15.3,1.9],[15.4,0.8],[15.5,1.4],[15.6,0.2],[15.7,1],[15.8,1.7],[15.9,0.6],[16,1.2],[16.1,2],[16.2,0.9],[16.3,1.5],[16.4,0.4],[16.5,1.1],[16.6,2.3],[16.7,0.8],[16.8,1.6],[16.9,1.3],[17,2],
  [17.1,0.6],[17.2,1.4],[17.3,2.5],[17.4,1],[17.5,1.8],[17.6,0.5],[17.7,1.5],[17.8,2.2],[17.9,1.2],[18,1.9],[18.1,2.8],[18.2,0.9],[18.3,1.6],[18.4,2.4],[18.5,1.3],[18.6,2],[18.7,2.9],[18.8,1],[18.9,1.7],[19,2.5],
  [15.5,2.2],[16,2.7],[16.3,0.1],[17,0.2],[18.5,0.1],[16.8,2.8],[17.5,2.9],[18,3],[15.8,0.05],
  [19.1,1.4],[19.2,2.1],[19.3,3],[19.4,1.8],[19.5,2.6],[19.6,1.2],[19.7,2.2],[19.8,3.3],[19.9,1.6],[20,2.4],[20.1,1],[20.2,2.8],[20.3,1.9],[20.4,2.5],[20.5,1.4],[20.6,3.1],[20.7,2],[20.8,2.7],[20.9,1.7],[21,2.3],
  [21.1,3],[21.2,1.5],[21.3,2.6],[21.4,2],[21.5,3.2],[21.6,1.8],[21.7,2.4],[21.8,2.9],[21.9,2.1],[22,1.7],[22.1,2.6],[22.2,3.3],[22.3,2],[22.4,2.4],[22.5,2.8],[22.6,3.3],[22.7,1.9],[22.8,2.5],[22.9,3],[23,2.8],
  [23.1,3.1],[22,2.2],[21,1.2],[20,0.1],[21.2,0.1],[23,0.2],[19.5,0.1],
  [0.7,0.3],[1.4,0.6],[2.1,0.1],[2.8,0.3],[3.5,0.6],[4.1,0.3],[4.7,0.1],[5.3,0.4],[5.9,0.7],[6.4,0.3],[7.1,0.8],[7.6,0.5],[8.1,0.2],[8.6,0.7],[9.1,0.5],[9.4,0.2],[9.7,0.8],[10.2,0.4],[10.7,0.2],[11.2,0.5],
  [11.7,0.9],[12.2,0.3],[12.7,0.6],[13.2,0.9],[13.7,0.5],[14.2,1],[14.7,0.7],[15.2,1],[15.7,0.6],[16.2,1.6],[16.7,1.2],[17.2,1.8],[17.7,1],[18.2,1.5],[18.7,2.2],[19.2,1.8],[19.7,2.7],[20.2,2.2],[20.7,1.7],[21.2,2.7],
  [21.7,2.1],[22.2,2.5],[22.7,2.2],[10.9,1.1],[11.9,0.7],[12.9,0.4],[13.9,0.8],[14.9,1.2],[15.9,1.4],[16.9,1.8],[17.9,2.5],[18.9,2.1],[19.9,2.9],[20.9,2.1],[21.9,2.7],[22.9,2.4],[17.4,2.1],[18.4,1.8],[19.4,2.3],[20.4,1.2],
  [21.4,1.6],[16.4,1.8],[15.4,1.2],[14.4,0.4],[13.4,0.7],[12.4,0.8],[11.4,0.3],[8.9,0.4],[7.9,0.2],[6.9,0.4],[5.9,0.3]
];

// caption text, one list of words per printed line ('b' bold, 'u' underlined)
var captionLines = [
  [['11.', 'b'], ['ábra.', 'b'], ['A'], ['különböző'], ['hőmérsékleti', 'u'], ['indexek']],
  [['fent:'], ['fagyos'], ['napok,'], ['balra'], ['fent:'], ['nyári'], ['napok,']],
  [['ségnapok)'], ['éves', 'u'], ['gyakorisága', 'u'], ['(nap)'], ['a']],
  [['rácspontokban'], ['1961–1990-re'], ['a'], ['CARPATCLIM']],
  [['figyelési'], ['adatbázis'], ['alapján'], ['(x-tengely)']],
  [['ALADIN-Climate'], ['(zöld)'], ['és'], ['a'], ['RegCM'], ['(piros)']],
  [['klímamodellek'], ['eredményei'], ['alapján'], ['(y-tengely)']]
];
// justified lines: [word index, x where that word starts]
var captionAnchor = [[4, 827], [5, 918], [4, 965], [3, 925], [3, 897], [5, 968], [3, 957]];

var panels = [
  { title: 'Fagyos nap', titleX: 260, titleBase: 40, grid: { left: 82, top: 62, width: 382, height: 385 },
    range: fagyosRange, ticks: fagyosTicks, minor: fagyosMinor, aladin: fagyosAladin, regcm: fagyosRegcm },
  { title: 'Nyári nap', titleX: 771, titleBase: 40, grid: { left: 592, top: 62, width: 382, height: 389 },
    range: nyariRange, ticks: nyariTicks, minor: nyariMinor, aladin: nyariAladin, regcm: nyariRegcm },
  { title: 'Hőségnap', titleX: 260, titleBase: 528, grid: { left: 82, top: 550, width: 382, height: 387 },
    range: hosegRange, ticks: hosegTicks, minor: hosegMinor, aladin: hosegAladin, regcm: hosegRegcm }
];

var AXIS_COLOR = '#666';
var TICK_FONT = '"DejaVu Serif", serif';
var NAME_FONT = '"Liberation Serif", "Times New Roman", serif';

function makeAxis(dim, gi, p, pos, major) {
  var withLabel = major && (pos === 'bottom' || pos === 'left');
  var axis = {
    type: 'value',
    gridIndex: gi,
    position: pos,
    min: p.range[0],
    max: p.range[1],
    silent: true,
    axisLine: { show: major, onZero: false, lineStyle: { color: AXIS_COLOR, width: 1 } },
    axisTick: { show: true, inside: false, length: major ? 6 : 3,
      customValues: major ? p.ticks : p.minor, lineStyle: { color: AXIS_COLOR, width: 1 } },
    axisLabel: { show: withLabel, customValues: p.ticks, margin: 12, color: '#111',
      fontFamily: TICK_FONT, fontSize: 12 },
    splitLine: { show: false }
  };
  if (withLabel && dim === 'x') {
    axis.name = 'CARPATCLIM';
    axis.nameLocation = 'middle';
    axis.nameGap = 29;
    axis.nameTextStyle = { fontFamily: NAME_FONT, fontSize: 12.5, color: '#111' };
  }
  if (withLabel && dim === 'y') {
    axis.name = 'ALADIN / RegCM';
    axis.nameLocation = 'middle';
    axis.nameRotate = 90;
    axis.nameGap = 50;
    axis.nameTextStyle = { fontFamily: NAME_FONT, fontSize: 21, color: '#111' };
  }
  return axis;
}

var grids = [], xAxes = [], yAxes = [], series = [], graphics = [];

panels.forEach(function (p, gi) {
  grids.push({ left: p.grid.left, top: p.grid.top, width: p.grid.width, height: p.grid.height,
    containLabel: false, outerBoundsMode: 'none' });
  var xi = xAxes.length, yi = yAxes.length;
  xAxes.push(makeAxis('x', gi, p, 'bottom', true));
  xAxes.push(makeAxis('x', gi, p, 'bottom', false));
  xAxes.push(makeAxis('x', gi, p, 'top', true));
  xAxes.push(makeAxis('x', gi, p, 'top', false));
  yAxes.push(makeAxis('y', gi, p, 'left', true));
  yAxes.push(makeAxis('y', gi, p, 'left', false));
  yAxes.push(makeAxis('y', gi, p, 'right', true));
  yAxes.push(makeAxis('y', gi, p, 'right', false));

  series.push({ type: 'scatter', xAxisIndex: xi, yAxisIndex: yi, data: p.regcm,
    symbol: 'rect', symbolSize: 3, itemStyle: { color: '#ff0000' }, silent: true, z: 2 });
  series.push({ type: 'scatter', xAxisIndex: xi, yAxisIndex: yi, data: p.aladin,
    symbol: 'rect', symbolSize: 3, itemStyle: { color: '#00ff00' }, silent: true, z: 2 });
  series.push({ type: 'line', xAxisIndex: xi, yAxisIndex: yi,
    data: [[p.range[0], p.range[0]], [p.range[1], p.range[1]]],
    symbol: 'none', lineStyle: { color: '#000', width: 1.5 }, silent: true, z: 3 });

  graphics.push({
    type: 'text', x: p.titleX, y: p.titleBase - 0.35 * 31, scaleX: 0.82, silent: true,
    style: { text: p.title, font: 'bold 31px "Liberation Sans", Arial, sans-serif', fill: '#000',
      align: 'center', textAlign: 'center', verticalAlign: 'middle', textVerticalAlign: 'middle' }
  });
});

// caption, laid out word by word as justified text
var CAP_SIZE = 26, CAP_LEFT = 541, CAP_BASE = 759, CAP_STEP = 36;
var mctx = document.createElement('canvas').getContext('2d');
function capFont(bold) {
  return (bold ? 'bold ' : '') + CAP_SIZE + 'px "Liberation Sans", Arial, sans-serif';
}
captionLines.forEach(function (words, li) {
  var base = CAP_BASE + li * CAP_STEP;
  var widths = words.map(function (w) {
    mctx.font = capFont(w[1] === 'b');
    return mctx.measureText(w[0]).width;
  });
  var anchor = captionAnchor[li];
  var sumBefore = 0;
  for (var k = 0; k < anchor[0]; k++) sumBefore += widths[k];
  var gap = (anchor[1] - CAP_LEFT - sumBefore) / anchor[0];
  var x = CAP_LEFT;
  var ulStart = null;
  words.forEach(function (w, wi) {
    graphics.push({
      type: 'text', x: x, y: base - 0.35 * CAP_SIZE, silent: true,
      style: { text: w[0], font: capFont(w[1] === 'b'), fill: '#000',
        align: 'left', textAlign: 'left', verticalAlign: 'middle', textVerticalAlign: 'middle' }
    });
    if (w[1] === 'u') {
      if (ulStart === null) ulStart = x;
      var nextU = words[wi + 1] && words[wi + 1][1] === 'u';
      if (!nextU) {
        graphics.push({ type: 'rect', silent: true,
          shape: { x: ulStart, y: base + 3, width: x + widths[wi] - ulStart, height: 2 },
          style: { fill: '#000' } });
        ulStart = null;
      }
    }
    x += widths[wi] + gap;
  });
});

var chart = echarts.init(document.getElementById('main'), null, { renderer: 'canvas' });
chart.setOption({
  animation: false,
  backgroundColor: '#fff',
  grid: grids,
  xAxis: xAxes,
  yAxis: yAxes,
  series: series,
  graphic: { elements: graphics }
});
</script>
</body>
</html>
